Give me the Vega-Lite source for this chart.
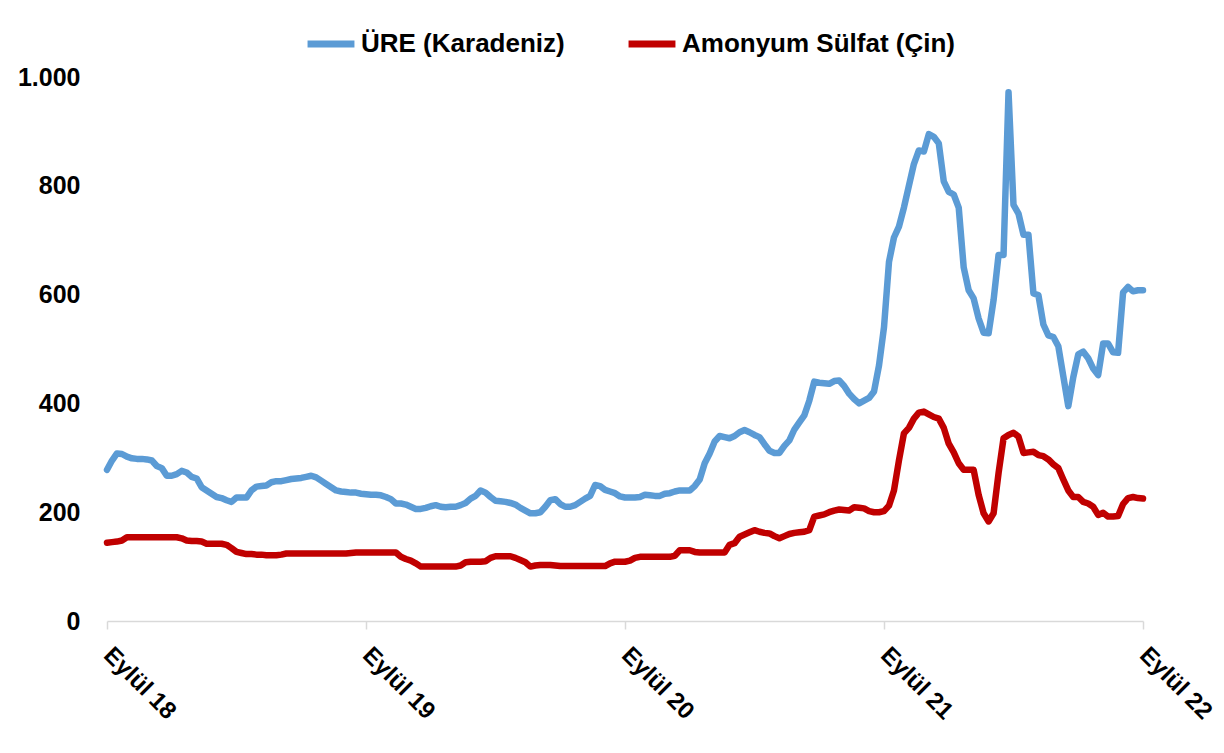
{
  "$schema": "https://vega.github.io/schema/vega-lite/v6.json",
  "autosize": "none",
  "width": 1036,
  "height": 544,
  "padding": {"left": 107, "top": 77, "right": 81, "bottom": 132},
  "background": "white",
  "config": {
    "view": {"stroke": null},
    "font": "Liberation Sans"
  },
  "data": {
    "values": [
      {"h":0,"ure":278,"amonyum":144},{"h":1,"ure":295,"amonyum":145},{"h":2,"ure":308,"amonyum":146},{"h":3,"ure":307,"amonyum":148},{"h":4,"ure":302,"amonyum":154},
      {"h":5,"ure":299,"amonyum":154},{"h":6,"ure":298,"amonyum":154},{"h":7,"ure":298,"amonyum":154},{"h":8,"ure":297,"amonyum":154},{"h":9,"ure":295,"amonyum":154},
      {"h":10,"ure":285,"amonyum":154},{"h":11,"ure":281,"amonyum":154},{"h":12,"ure":267,"amonyum":154},{"h":13,"ure":267,"amonyum":154},{"h":14,"ure":270,"amonyum":154},
      {"h":15,"ure":276,"amonyum":152},{"h":16,"ure":273,"amonyum":148},{"h":17,"ure":265,"amonyum":147},{"h":18,"ure":262,"amonyum":147},{"h":19,"ure":246,"amonyum":146},
      {"h":20,"ure":240,"amonyum":142},{"h":21,"ure":234,"amonyum":142},{"h":22,"ure":228,"amonyum":142},{"h":23,"ure":226,"amonyum":142},{"h":24,"ure":222,"amonyum":140},
      {"h":25,"ure":219,"amonyum":134},{"h":26,"ure":227,"amonyum":127},{"h":27,"ure":227,"amonyum":125},{"h":28,"ure":227,"amonyum":123},{"h":29,"ure":240,"amonyum":123},
      {"h":30,"ure":247,"amonyum":122},{"h":31,"ure":248,"amonyum":122},{"h":32,"ure":249,"amonyum":121},{"h":33,"ure":255,"amonyum":121},{"h":34,"ure":257,"amonyum":121},
      {"h":35,"ure":257,"amonyum":122},{"h":36,"ure":259,"amonyum":124},{"h":37,"ure":261,"amonyum":124},{"h":38,"ure":262,"amonyum":124},{"h":39,"ure":263,"amonyum":124},
      {"h":40,"ure":265,"amonyum":124},{"h":41,"ure":267,"amonyum":124},{"h":42,"ure":264,"amonyum":124},{"h":43,"ure":258,"amonyum":124},{"h":44,"ure":252,"amonyum":124},
      {"h":45,"ure":246,"amonyum":124},{"h":46,"ure":240,"amonyum":124},{"h":47,"ure":238,"amonyum":124},{"h":48,"ure":237,"amonyum":124},{"h":49,"ure":236,"amonyum":125},
      {"h":50,"ure":236,"amonyum":126},{"h":51,"ure":234,"amonyum":126},{"h":52,"ure":233,"amonyum":126},{"h":53,"ure":232,"amonyum":126},{"h":54,"ure":232,"amonyum":126},
      {"h":55,"ure":231,"amonyum":126},{"h":56,"ure":228,"amonyum":126},{"h":57,"ure":224,"amonyum":126},{"h":58,"ure":216,"amonyum":126},{"h":59,"ure":216,"amonyum":118},
      {"h":60,"ure":214,"amonyum":114},{"h":61,"ure":210,"amonyum":111},{"h":62,"ure":206,"amonyum":106},{"h":63,"ure":206,"amonyum":100},{"h":64,"ure":208,"amonyum":100},
      {"h":65,"ure":211,"amonyum":100},{"h":66,"ure":213,"amonyum":100},{"h":67,"ure":210,"amonyum":100},{"h":68,"ure":209,"amonyum":100},{"h":69,"ure":210,"amonyum":100},
      {"h":70,"ure":210,"amonyum":100},{"h":71,"ure":213,"amonyum":102},{"h":72,"ure":217,"amonyum":108},{"h":73,"ure":225,"amonyum":109},{"h":74,"ure":230,"amonyum":109},
      {"h":75,"ure":240,"amonyum":109},{"h":76,"ure":236,"amonyum":110},{"h":77,"ure":228,"amonyum":116},{"h":78,"ure":221,"amonyum":119},{"h":79,"ure":220,"amonyum":119},
      {"h":80,"ure":219,"amonyum":119},{"h":81,"ure":217,"amonyum":119},{"h":82,"ure":214,"amonyum":116},{"h":83,"ure":208,"amonyum":112},{"h":84,"ure":203,"amonyum":108},
      {"h":85,"ure":198,"amonyum":100},{"h":86,"ure":198,"amonyum":102},{"h":87,"ure":200,"amonyum":103},{"h":88,"ure":210,"amonyum":103},{"h":89,"ure":222,"amonyum":103},
      {"h":90,"ure":224,"amonyum":102},{"h":91,"ure":215,"amonyum":101},{"h":92,"ure":210,"amonyum":101},{"h":93,"ure":210,"amonyum":101},{"h":94,"ure":213,"amonyum":101},
      {"h":95,"ure":219,"amonyum":101},{"h":96,"ure":225,"amonyum":101},{"h":97,"ure":230,"amonyum":101},{"h":98,"ure":250,"amonyum":101},{"h":99,"ure":248,"amonyum":101},
      {"h":100,"ure":241,"amonyum":101},{"h":101,"ure":238,"amonyum":106},{"h":102,"ure":235,"amonyum":109},{"h":103,"ure":229,"amonyum":109},{"h":104,"ure":227,"amonyum":109},
      {"h":105,"ure":227,"amonyum":111},{"h":106,"ure":227,"amonyum":116},{"h":107,"ure":228,"amonyum":118},{"h":108,"ure":232,"amonyum":118},{"h":109,"ure":231,"amonyum":118},
      {"h":110,"ure":230,"amonyum":118},{"h":111,"ure":230,"amonyum":118},{"h":112,"ure":234,"amonyum":118},{"h":113,"ure":235,"amonyum":118},{"h":114,"ure":238,"amonyum":120},
      {"h":115,"ure":240,"amonyum":130},{"h":116,"ure":240,"amonyum":130},{"h":117,"ure":240,"amonyum":130},{"h":118,"ure":248,"amonyum":127},{"h":119,"ure":260,"amonyum":126},
      {"h":120,"ure":290,"amonyum":126},{"h":121,"ure":308,"amonyum":126},{"h":122,"ure":330,"amonyum":126},{"h":123,"ure":340,"amonyum":126},{"h":124,"ure":338,"amonyum":126},
      {"h":125,"ure":336,"amonyum":140},{"h":126,"ure":340,"amonyum":143},{"h":127,"ure":347,"amonyum":155},{"h":128,"ure":351,"amonyum":159},{"h":129,"ure":347,"amonyum":163},
      {"h":130,"ure":342,"amonyum":167},{"h":131,"ure":338,"amonyum":164},{"h":132,"ure":325,"amonyum":162},{"h":133,"ure":313,"amonyum":161},{"h":134,"ure":309,"amonyum":156},
      {"h":135,"ure":309,"amonyum":152},{"h":136,"ure":322,"amonyum":156},{"h":137,"ure":332,"amonyum":160},{"h":138,"ure":352,"amonyum":162},{"h":139,"ure":365,"amonyum":163},
      {"h":140,"ure":378,"amonyum":164},{"h":141,"ure":405,"amonyum":167},{"h":142,"ure":440,"amonyum":192},{"h":143,"ure":438,"amonyum":194},{"h":144,"ure":437,"amonyum":196},
      {"h":145,"ure":436,"amonyum":200},{"h":146,"ure":441,"amonyum":203},{"h":147,"ure":442,"amonyum":205},{"h":148,"ure":432,"amonyum":204},{"h":149,"ure":418,"amonyum":203},
      {"h":150,"ure":408,"amonyum":209},{"h":151,"ure":400,"amonyum":208},{"h":152,"ure":405,"amonyum":207},{"h":153,"ure":410,"amonyum":202},{"h":154,"ure":422,"amonyum":200},
      {"h":155,"ure":470,"amonyum":200},{"h":156,"ure":540,"amonyum":202},{"h":157,"ure":660,"amonyum":212},{"h":158,"ure":705,"amonyum":240},{"h":159,"ure":725,"amonyum":295},
      {"h":160,"ure":760,"amonyum":345},{"h":161,"ure":800,"amonyum":355},{"h":162,"ure":840,"amonyum":372},{"h":163,"ure":865,"amonyum":383},{"h":164,"ure":863,"amonyum":385},
      {"h":165,"ure":895,"amonyum":380},{"h":166,"ure":890,"amonyum":375},{"h":167,"ure":878,"amonyum":372},{"h":168,"ure":808,"amonyum":355},{"h":169,"ure":789,"amonyum":326},
      {"h":170,"ure":784,"amonyum":310},{"h":171,"ure":760,"amonyum":290},{"h":172,"ure":650,"amonyum":278},{"h":173,"ure":608,"amonyum":278},{"h":174,"ure":593,"amonyum":278},
      {"h":175,"ure":556,"amonyum":232},{"h":176,"ure":530,"amonyum":198},{"h":177,"ure":529,"amonyum":183},{"h":178,"ure":590,"amonyum":198},{"h":179,"ure":673,"amonyum":272},
      {"h":180,"ure":673,"amonyum":336},{"h":181,"ure":972,"amonyum":342},{"h":182,"ure":765,"amonyum":346},{"h":183,"ure":749,"amonyum":339},{"h":184,"ure":710,"amonyum":309},
      {"h":185,"ure":710,"amonyum":310},{"h":186,"ure":602,"amonyum":311},{"h":187,"ure":599,"amonyum":305},{"h":188,"ure":545,"amonyum":303},{"h":189,"ure":525,"amonyum":297},
      {"h":190,"ure":522,"amonyum":288},{"h":191,"ure":505,"amonyum":281},{"h":192,"ure":450,"amonyum":260},{"h":193,"ure":395,"amonyum":240},{"h":194,"ure":448,"amonyum":228},
      {"h":195,"ure":490,"amonyum":228},{"h":196,"ure":495,"amonyum":219},{"h":197,"ure":483,"amonyum":216},{"h":198,"ure":464,"amonyum":210},{"h":199,"ure":452,"amonyum":195},
      {"h":200,"ure":510,"amonyum":199},{"h":201,"ure":510,"amonyum":192},{"h":202,"ure":494,"amonyum":192},{"h":203,"ure":493,"amonyum":193},{"h":204,"ure":604,"amonyum":215},
      {"h":205,"ure":614,"amonyum":226},{"h":206,"ure":606,"amonyum":228},{"h":207,"ure":608,"amonyum":226},{"h":208,"ure":608,"amonyum":225}
    ]
  },
  "transform": [
    {"fold": ["ure", "amonyum"], "as": ["seri", "deger"]}
  ],
  "mark": {"type": "line", "strokeWidth": 6.5, "strokeJoin": "round", "strokeCap": "round"},
  "encoding": {
    "x": {
      "field": "h",
      "type": "quantitative",
      "scale": {"domain": [0, 208], "nice": false, "zero": false},
      "axis": {
        "title": null,
        "values": [0, 52, 104, 156, 208],
        "labelExpr": "'Eylül ' + (18 + round(datum.value / 52))",
        "labelAngle": 45,
        "labelAlign": "left",
        "labelBaseline": "middle",
        "labelPadding": 22,
        "labelFontSize": 24,
        "labelFontWeight": "bold",
        "labelColor": "#000000",
        "labelFont": "Liberation Sans",
        "labelOverlap": false,
        "labelBound": false,
        "labelFlush": false,
        "grid": false,
        "domainColor": "#d9d9d9",
        "domainWidth": 1.5,
        "tickColor": "#d9d9d9",
        "tickWidth": 1.5,
        "tickSize": 8
      }
    },
    "y": {
      "field": "deger",
      "type": "quantitative",
      "scale": {"domain": [0, 1000], "nice": false},
      "axis": {
        "title": null,
        "values": [0, 200, 400, 600, 800, 1000],
        "labelExpr": "replace(format(datum.value, ','), ',', '.')",
        "labelFontSize": 25,
        "labelFontWeight": "bold",
        "labelColor": "#000000",
        "labelFont": "Liberation Sans",
        "labelPadding": 27,
        "grid": false,
        "domain": false,
        "ticks": false
      }
    },
    "color": {
      "field": "seri",
      "type": "nominal",
      "scale": {"domain": ["ure", "amonyum"], "range": ["#5B9BD5", "#C00000"]},
      "legend": {
        "title": null,
        "orient": "none",
        "direction": "horizontal",
        "legendX": 197,
        "legendY": -60,
        "labelExpr": "datum.value == 'ure' ? 'ÜRE (Karadeniz)' : 'Amonyum Sülfat (Çin)'",
        "symbolType": "stroke",
        "symbolSize": 2200,
        "symbolStrokeWidth": 7,
        "labelFontSize": 26,
        "labelFontWeight": "bold",
        "labelColor": "#000000",
        "labelFont": "Liberation Sans",
        "labelLimit": 0,
        "labelOffset": 3,
        "columnPadding": 49
      }
    }
  }
}
